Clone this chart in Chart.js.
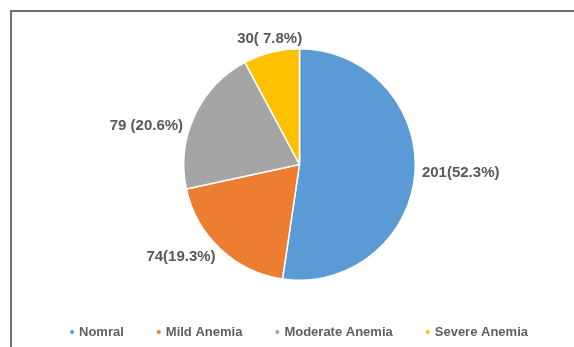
<!DOCTYPE html>
<html>
<head>
<meta charset="utf-8">
<script src="https://cdn.jsdelivr.net/npm/chart.js"></script>
<style>
    html, body { margin: 0; padding: 0; background: #fff; overflow: hidden; }
    #frame {
        position: absolute; left: 10px; top: 10px;
        width: 700px; height: 500px;
        border: 2px solid #6e6e6e;
    }
    #wrap { position: absolute; left: 0; top: 0; width: 574px; height: 347px; }
</style>
</head>
<body>
<div id="frame"></div>
<div id="wrap"><canvas id="myChart"></canvas></div>
<script>
const categories = ['Nomral', 'Mild Anemia', 'Moderate Anemia', 'Severe Anemia'];
const counts = [201, 74, 79, 30];
const valueLabels = ['201(52.3%)', '74(19.3%)', '79 (20.6%)', '30( 7.8%)'];
const sliceColors = ['#5B9BD5', '#ED7D31', '#A5A5A5', '#FFC000'];

const FONT = '"Liberation Sans", Arial, sans-serif';
// pequeno ajuste manual da posicao de cada etiqueta (px)
const labelNudge = [[0, -1], [0, 3], [-5, 13], [0, 1]];

// etiquetas fora das fatias
const outsideLabels = {
    id: 'outsideLabels',
    afterDatasetsDraw(chart) {
        let ctx = chart.ctx;
        let meta = chart.getDatasetMeta(0);
        ctx.save();
        ctx.font = 'bold 15px ' + FONT;
        ctx.fillStyle = '#595959';
        meta.data.forEach(function(arc, i) {
            let p = arc.getProps(['x', 'y', 'startAngle', 'endAngle', 'outerRadius'], true);
            let mid = (p.startAngle + p.endAngle) / 2;
            let r = p.outerRadius + 7;
            let c = Math.cos(mid), s = Math.sin(mid);
            let x = p.x + c * r + labelNudge[i][0];
            let y = p.y + s * r + labelNudge[i][1];
            if (c > 0.3) {
                ctx.textAlign = 'left';
                ctx.textBaseline = 'middle';
            } else if (c < -0.3) {
                ctx.textAlign = 'right';
                ctx.textBaseline = 'middle';
            } else {
                ctx.textAlign = 'center';
                ctx.textBaseline = s < 0 ? 'bottom' : 'top';
            }
            ctx.fillText(valueLabels[i], x, y);
        });
        ctx.restore();
    }
};

// legenda embaixo, centralizada
const bottomLegend = {
    id: 'bottomLegend',
    afterDraw(chart) {
        let ctx = chart.ctx;
        ctx.save();
        ctx.font = 'bold 13px ' + FONT;
        ctx.textBaseline = 'middle';
        ctx.textAlign = 'left';
        let markW = 4, markGap = 5, itemGap = 33;
        let widths = categories.map(t => ctx.measureText(t).width);
        let total = widths.reduce((a, b) => a + b, 0) + categories.length * (markW + markGap) + (categories.length - 1) * itemGap;
        let x = 299 - total / 2;
        let y = 332;
        categories.forEach(function(t, i) {
            ctx.fillStyle = sliceColors[i];
            ctx.beginPath();
            ctx.arc(x + markW / 2, y, markW / 2, 0, Math.PI * 2);
            ctx.fill();
            x += markW + markGap;
            ctx.fillStyle = '#5f5f5f';
            ctx.fillText(t, x, y);
            x += widths[i] + itemGap;
        });
        ctx.restore();
    }
};

let ctx = document.getElementById('myChart').getContext('2d');
new Chart(ctx, {
    type: 'pie',
    data: {
        labels: categories,
        datasets: [{
            data: counts,
            backgroundColor: sliceColors,
            borderColor: '#ffffff',
            borderWidth: 1.5
        }]
    },
    options: {
        responsive: true,
        maintainAspectRatio: false,
        animation: false,
        layout: { padding: { top: 48, bottom: 66, left: 25, right: 0 } },
        plugins: {
            legend: { display: false },
            tooltip: { enabled: false }
        }
    },
    plugins: [outsideLabels, bottomLegend]
});
</script>
</body>
</html>
